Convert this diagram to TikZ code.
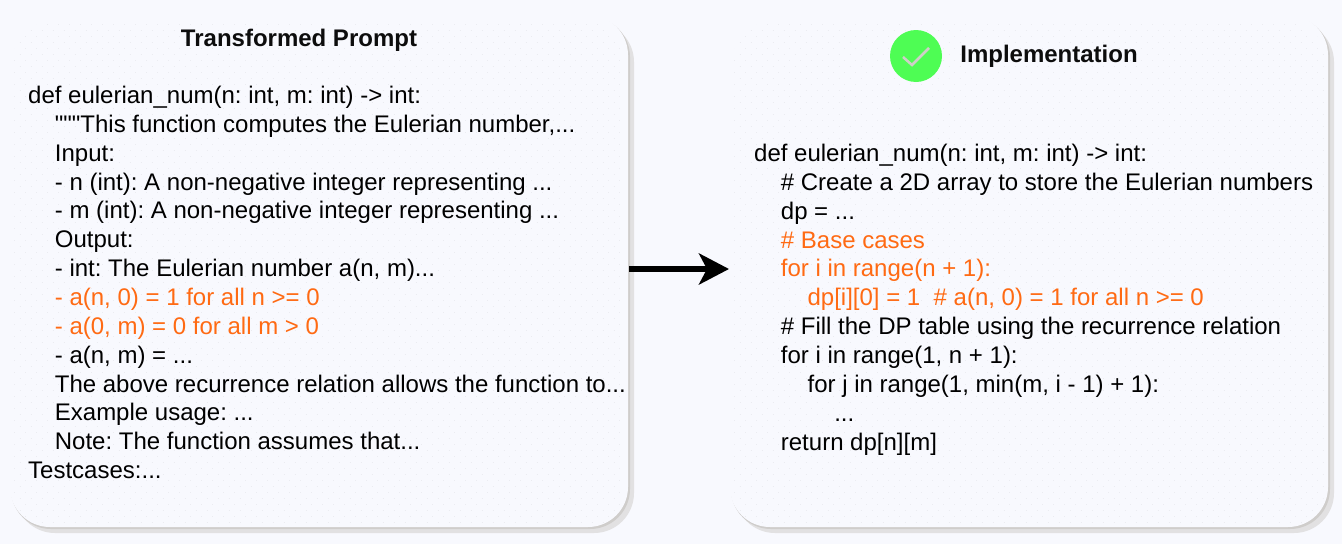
\documentclass[tikz,border=0pt]{standalone}
\usepackage{fontspec}
\setmainfont{Liberation Sans}[Ligatures=TeXOff]
\definecolor{pagebg}{HTML}{F8F9FE}
\definecolor{dotc}{HTML}{EBECF1}
\definecolor{shadowc}{HTML}{CFCDCB}
\definecolor{shadowd}{HTML}{E2E1E2}
\definecolor{codeor}{HTML}{FF6A13}
\definecolor{okgreen}{HTML}{4EFD54}
\definecolor{tickc}{HTML}{CFCFC8}
\newcommand{\ind}{\hspace*{26.7pt}}
\newcommand{\indd}{\hspace*{53.4pt}}
\newcommand{\inddd}{\hspace*{80.1pt}}
\usetikzlibrary{arrows.meta}
\tikzset{
  x=1pt,y=-1pt,
  code/.style={inner sep=0pt,anchor=north west,align=left,font=\fontsize{24}{28.85}\selectfont\frenchspacing,text=black},
  title/.style={inner sep=0pt,font=\fontsize{24}{28.8}\selectfont\bfseries,text=black!95},
  flow/.style={line width=6pt,-{Stealth[length=30pt,width=31pt,inset=8pt]}},
  dotrow/.style={dotc,line width=0.9pt,dash pattern=on 0.9pt off 10.1pt},
}
\begin{document}
\begin{tikzpicture}
\useasboundingbox (0,0) rectangle (1342,544);
\fill[pagebg] (0,0) rectangle (1342,544);
% left panel
\fill[shadowd,rounded corners=40pt] (15,22) rectangle (634,533);
\fill[shadowc,rounded corners=40pt] (11,17) rectangle (630,529);
\fill[pagebg,rounded corners=40pt] (10,15) rectangle (628,527);
% right panel
\fill[shadowd,rounded corners=40pt] (735,22) rectangle (1334,533);
\fill[shadowc,rounded corners=40pt] (731,17) rectangle (1330,529);
\fill[pagebg,rounded corners=40pt] (730,15) rectangle (1328,527);
\begin{scope}
\clip[rounded corners=34pt] (14,23) rectangle (624,527);
\foreach \yy in {24,36,...,524}{\draw[dotrow] (14,\yy) -- (628,\yy);\draw[dotrow] (19.5,\yy+6) -- (628,\yy+6);}
\end{scope}
\begin{scope}
\clip[rounded corners=34pt] (734,23) rectangle (1324,527);
\foreach \yy in {24,36,...,524}{\draw[dotrow] (734,\yy) -- (1328,\yy);\draw[dotrow] (739.5,\yy+6) -- (1328,\yy+6);}
\end{scope}
\node[title] (lefttitle) at (299,40) {Transformed Prompt};
\node[code] (leftcode) at (28,86) {def eulerian\_num(n: int, m: int) -> int:\\
\ind """This function computes the Eulerian number,...\\
\ind Input:\\
\ind - n (int): A non-negative integer representing ...\\
\ind - m (int): A non-negative integer representing ...\\
\ind Output:\\
\ind - int: The Eulerian number a(n, m)...\\
\ind \textcolor{codeor}{- a(n, 0) = 1 for all n >= 0}\\
\ind \textcolor{codeor}{- a(0, m) = 0 for all m > 0}\\
\ind - a(n, m) = ...\\
\ind The above recurrence relation allows the function to...\\
\ind Example usage: ...\\
\ind Note: The function assumes that...\\
Testcases:...};
\node[circle,fill=okgreen,minimum size=52pt,inner sep=0pt] (okmark) at (916,56) {};
\draw[tickc,line width=2.5pt] ([shift={(-13,1)}]okmark.center) -- ([shift={(-4,9)}]okmark.center) -- ([shift={(13,-8)}]okmark.center);
\node[title] (righttitle) at (1049,56) {Implementation};
\node[code] (rightcode) at (754,144) {def eulerian\_num(n: int, m: int) -> int:\\
\ind \# Create a 2D array to store the Eulerian numbers\\
\ind dp = ...\\
\ind \textcolor{codeor}{\# Base cases}\\
\ind \textcolor{codeor}{for i in range(n + 1):}\\
\indd \textcolor{codeor}{dp[i][0] = 1\ \ \# a(n, 0) = 1 for all n >= 0}\\
\ind \# Fill the DP table using the recurrence relation\\
\ind for i in range(1, n + 1):\\
\indd for j in range(1, min(m, i - 1) + 1):\\
\inddd ...\\
\ind return dp[n][m]};
\coordinate (flowa) at (629,269);
\coordinate (flowb) at (729,269);
\draw[flow] (flowa) -- (flowb);
\end{tikzpicture}
\end{document}
